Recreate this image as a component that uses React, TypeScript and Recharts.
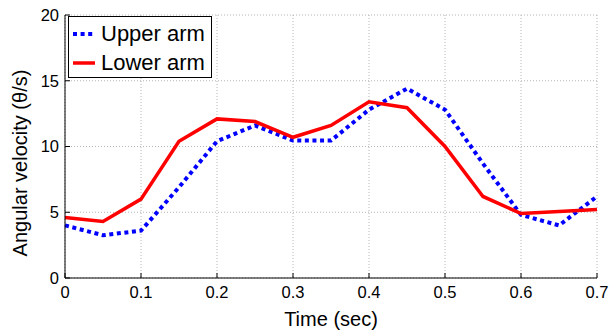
import React from "react"
import { LineChart, Line, XAxis, YAxis, CartesianGrid } from "recharts"

const time = [0, 0.05, 0.1, 0.15, 0.2, 0.25, 0.3, 0.35, 0.4, 0.45, 0.5, 0.55, 0.6, 0.65, 0.7]
const upperArm = [4.0, 3.25, 3.6, 6.9, 10.4, 11.6, 10.45, 10.45, 12.8, 14.4, 12.8, 8.7, 4.8, 4.0, 6.2]
const lowerArm = [4.6, 4.3, 6.0, 10.4, 12.1, 11.9, 10.7, 11.6, 13.4, 12.95, 10.0, 6.2, 4.9, 5.05, 5.2]
const xTicks = [0, 0.1, 0.2, 0.3, 0.4, 0.5, 0.6, 0.7]
const yTicks = [0, 5, 10, 15, 20]
const seriesNames = ["Upper arm", "Lower arm"]

const data = time.map((t, i) => ({ t, upper: upperArm[i], lower: lowerArm[i] }))

const FONT = '"Liberation Sans", Arial, Helvetica, sans-serif'

function XTick(props: any) {
  const { x, y, payload } = props
  return (
    <g>
      <line x1={x} x2={x} y1={y - 20} y2={y - 25} stroke="#000" />
      <text x={x} y={y} textAnchor="middle" fontSize={16.5} fontFamily={FONT} fill="#000">
        {String(payload.value)}
      </text>
    </g>
  )
}

function YTick(props: any) {
  const { x, y, payload } = props
  return (
    <g>
      <line x1={x + 6} x2={x + 11} y1={y} y2={y} stroke="#000" />
      <text x={x} y={y} dy="0.36em" textAnchor="end" fontSize={16.5} fontFamily={FONT} fill="#000">
        {String(payload.value)}
      </text>
    </g>
  )
}

function LegendBox() {
  const row = { display: "flex", alignItems: "center", height: 29 }
  return (
    <div
      style={{
        position: "absolute",
        left: 68,
        top: 16,
        width: 144,
        height: 62,
        border: "1px solid #000",
        background: "#fff",
        fontFamily: FONT,
        fontSize: 22,
        color: "#000",
        paddingTop: 2,
        boxSizing: "border-box",
      }}
    >
      <div style={row}>
        <svg width={27} height={8} style={{ marginLeft: 4, marginRight: 1 }}>
          <line x1={0} x2={22} y1={4} y2={4} stroke="#0000ff" strokeWidth={4} strokeDasharray="4 3.6" />
        </svg>
        <span>{seriesNames[0]}</span>
      </div>
      <div style={row}>
        <svg width={27} height={8} style={{ marginLeft: 4, marginRight: 1 }}>
          <line x1={0} x2={22} y1={4} y2={4} stroke="#ff0000" strokeWidth={3.5} />
        </svg>
        <span>{seriesNames[1]}</span>
      </div>
    </div>
  )
}

export default function App() {
  return (
    <div style={{ position: "absolute", left: 0, top: 0, width: 609, height: 332, background: "#fff" }}>
      <LineChart width={609} height={332} data={data} margin={{ top: 15, right: 12, bottom: 0, left: 0 }}>
        <CartesianGrid stroke="#b4b4b4" strokeDasharray="1 2" />
        <XAxis
          dataKey="t"
          type="number"
          domain={[0, 0.7]}
          ticks={xTicks}
          height={54}
          tickSize={0}
          tickMargin={20}
          tick={<XTick />}
          axisLine={{ stroke: "#000" }}
          tickLine={false}
          label={{
            content: () => (
              <text x={331} y={326} textAnchor="middle" fontSize={20} fontFamily={FONT} fill="#000">
                Time (sec)
              </text>
            ),
          }}
        />
        <YAxis
          type="number"
          domain={[0, 20]}
          ticks={yTicks}
          width={65}
          tickSize={0}
          tickMargin={6}
          tick={<YTick />}
          axisLine={{ stroke: "#000" }}
          tickLine={false}
          label={{
            content: () => (
              <text
                x={0}
                y={0}
                transform="translate(27,163) rotate(-90)"
                textAnchor="middle"
                fontSize={20}
                fontFamily={FONT}
                fill="#000"
              >
                Angular velocity (θ/s)
              </text>
            ),
          }}
        />
        <Line
          dataKey="upper"
          name={seriesNames[0]}
          stroke="#0000ff"
          strokeWidth={4}
          strokeDasharray="4 3.6"
          dot={false}
          isAnimationActive={false}
        />
        <Line
          dataKey="lower"
          name={seriesNames[1]}
          stroke="#ff0000"
          strokeWidth={3.5}
          dot={false}
          isAnimationActive={false}
        />
      </LineChart>
      <LegendBox />
    </div>
  )
}
